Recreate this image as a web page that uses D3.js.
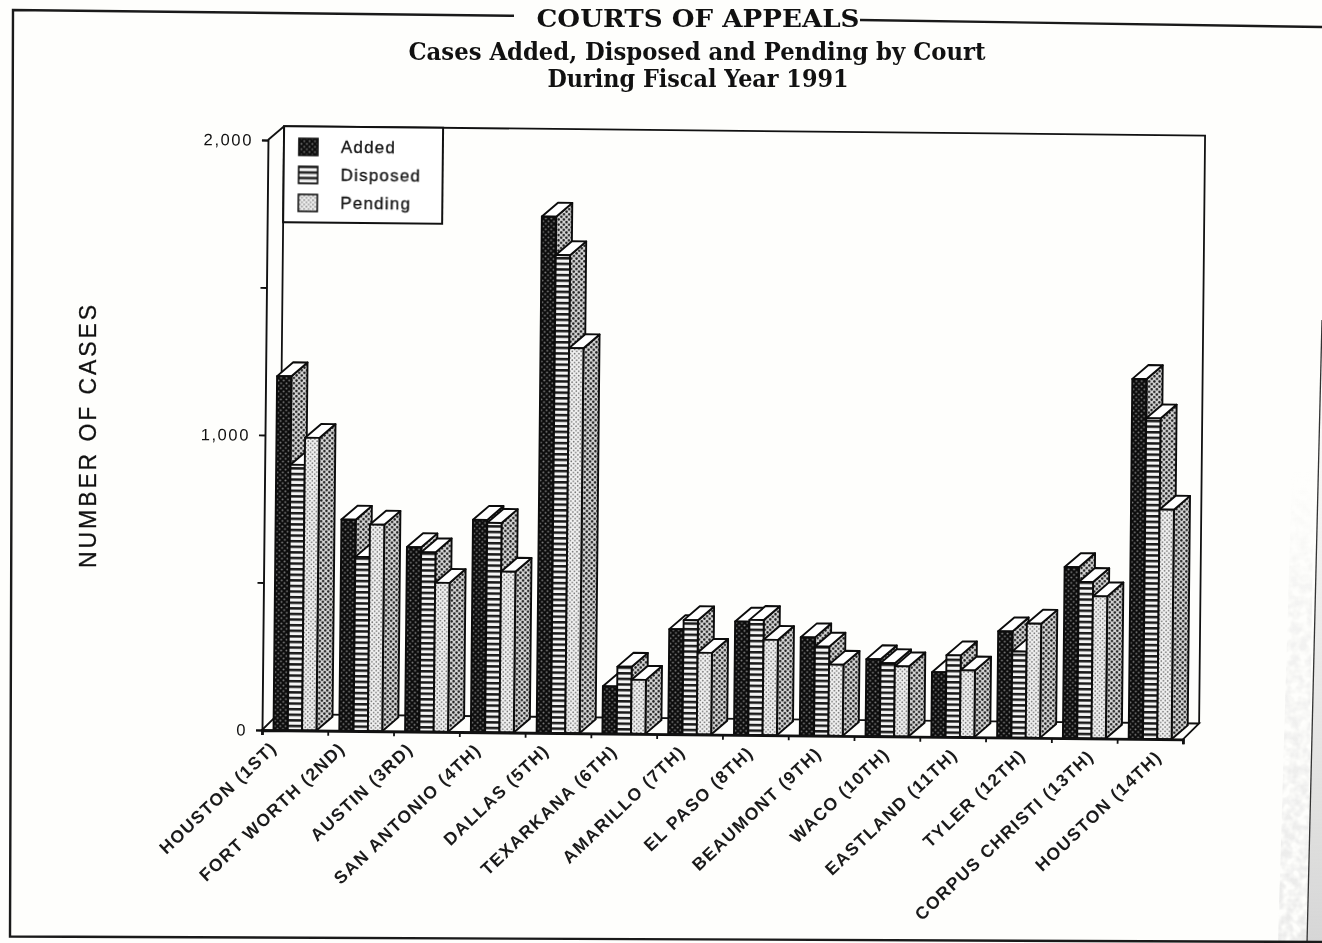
<!DOCTYPE html>
<html>
<head>
<meta charset="utf-8">
<title>Courts of Appeals</title>
<script src="https://cdn.jsdelivr.net/npm/d3@7/dist/d3.min.js"></script>
<style>
  html, body { margin: 0; padding: 0; background: #fefefc; }
  svg { display: block; filter: blur(0.5px); }
  .sans { font-family: "Liberation Sans", Arial, sans-serif; fill: #111; stroke: #111; stroke-width: 0.3px; }
  .serif { font-family: "DejaVu Serif", serif; font-weight: bold; fill: #111; text-anchor: middle; }
</style>
</head>
<body>
<svg id="chart" width="1322" height="943"></svg>
<script>
const courts = ['HOUSTON (1ST)', 'FORT WORTH (2ND)', 'AUSTIN (3RD)', 'SAN ANTONIO (4TH)', 'DALLAS (5TH)', 'TEXARKANA (6TH)', 'AMARILLO (7TH)', 'EL PASO (8TH)', 'BEAUMONT (9TH)', 'WACO (10TH)', 'EASTLAND (11TH)', 'TYLER (12TH)', 'CORPUS CHRISTI (13TH)', 'HOUSTON (14TH)'];
const added = [1200, 716, 625, 720, 1750, 160, 356, 384, 333, 261, 219, 360, 580, 1220];
const disposed = [900, 590, 608, 710, 1620, 227, 387, 390, 302, 248, 277, 292, 530, 1087];
const pending = [992, 700, 505, 545, 1305, 183, 277, 323, 241, 238, 226, 387, 482, 778];
const seriesNames = ['Added', 'Disposed', 'Pending'];
const yTicks = [0, 500, 1000, 1500, 2000];
const yTickLabels = { 0: '0', 1000: '1,000', 2000: '2,000' };

const svg = d3.select('#chart');
const defs = svg.append('defs');

// Halftone fills, as on the scanned page
function dots(id, bg, fg, r, size) {
  const p = defs.append('pattern').attr('id', id).attr('width', size).attr('height', size).attr('patternUnits', 'userSpaceOnUse');
  p.append('rect').attr('width', size).attr('height', size).attr('fill', bg);
  p.append('circle').attr('cx', size / 4).attr('cy', size / 4).attr('r', r).attr('fill', fg);
  p.append('circle').attr('cx', size * 0.75).attr('cy', size * 0.75).attr('r', r).attr('fill', fg);
}
dots('fill-added', '#0c0c0c', '#808080', 0.95, 5.4);
dots('fill-side', '#d2d2d2', '#1c1c1c', 1.2, 5.2);
dots('fill-pending', '#f2f2f2', '#707070', 0.85, 4.4);
const stripes = defs.append('pattern').attr('id', 'fill-disposed').attr('width', 6).attr('height', 5.6).attr('patternUnits', 'userSpaceOnUse');
stripes.append('rect').attr('width', 6).attr('height', 5.6).attr('fill', '#f4f4f4');
stripes.append('rect').attr('width', 6).attr('height', 2.5).attr('fill', '#1a1a1a');
const fills = ['url(#fill-added)', 'url(#fill-disposed)', 'url(#fill-pending)'];

const bleed = defs.append('linearGradient').attr('id', 'bleed').attr('x1', 0).attr('y1', 0).attr('x2', 0).attr('y2', 1);
bleed.append('stop').attr('offset', 0).attr('stop-color', '#e0e0e0').attr('stop-opacity', 0);
bleed.append('stop').attr('offset', 0.3).attr('stop-color', '#e0e0e0').attr('stop-opacity', 0.35);
bleed.append('stop').attr('offset', 1).attr('stop-color', '#dcdcdc').attr('stop-opacity', 0.6);
const strip = defs.append('linearGradient').attr('id', 'strip').attr('x1', 0).attr('y1', 0).attr('x2', 0).attr('y2', 1);
strip.append('stop').attr('offset', 0).attr('stop-color', '#d8d8d8').attr('stop-opacity', 0);
strip.append('stop').attr('offset', 1).attr('stop-color', '#cfcfcf').attr('stop-opacity', 0.85);
const grain = defs.append('filter').attr('id', 'grain');
grain.append('feTurbulence').attr('type', 'fractalNoise').attr('baseFrequency', 0.12).attr('numOctaves', 2).attr('seed', 4).attr('result', 'n');
grain.append('feColorMatrix').attr('in', 'n').attr('type', 'matrix').attr('values', '0 0 0 0 0 0 0 0 0 0 0 0 0 0 0 0 0 0 2.4 -0.7').attr('result', 'a');
grain.append('feComposite').attr('in', 'SourceGraphic').attr('in2', 'a').attr('operator', 'in');

// page gutter at the right of the scan
svg.append('path').attr('d', 'M1314,470L1307,943L1278,943L1292,470Z').attr('fill', 'url(#bleed)').attr('filter', 'url(#grain)');
svg.append('path').attr('d', 'M1322,320L1322,943L1307,943Z').attr('fill', 'url(#strip)');
svg.append('path').attr('d', 'M1322,320L1307,943').attr('stroke', '#333').attr('stroke-width', 1.3).attr('fill', 'none');

// outer frame, broken by the heading
const frame = svg.append('g').attr('fill', 'none').attr('stroke', '#1a1a1a').attr('stroke-width', 2.4);
frame.append('path').attr('d', 'M514,15.8L13,10L10,936.5L1322,942');
frame.append('path').attr('d', 'M860,20L1322,27');

function heading(text, cx, base, len, size) {
  svg.append('text').attr('class', 'serif').attr('x', cx).attr('y', base).attr('font-size', size)
    .attr('textLength', len).attr('lengthAdjust', 'spacingAndGlyphs').text(text);
}
heading('COURTS OF APPEALS', 698, 27, 323, 25);
heading('Cases Added, Disposed and Pending by Court', 697, 60, 577, 24);
heading('During Fiscal Year 1991', 698, 87, 301, 24);

svg.append('text').attr('class', 'sans').attr('transform', 'translate(96,435) rotate(-90)').attr('text-anchor', 'middle')
  .attr('font-size', 23).attr('letter-spacing', 2.9).text('NUMBER OF CASES');

const plotWidth = 921;
const plotHeight = 590;
const depthX = 16;
const depthY = -16;
const barW = 14.3;
const barInset = 11.5;
const barDx = 16;
const barDy = -14;

const plot = svg.append('g').attr('transform', 'translate(262,730) rotate(0.58)');

const x = d3.scaleBand().domain(courts).range([0, plotWidth]);
const y = d3.scaleLinear().domain([0, 2000]).range([0, -plotHeight]);
const labelX = d3.scalePoint().domain(courts).range([7, 892]);

// back wall, left wall and floor
const wallTop = y(2000) - 14;
const box = plot.append('g').attr('fill', 'none').attr('stroke', '#111').attr('stroke-width', 1.8);
box.append('path').attr('d', `M${depthX},${depthY}V${wallTop}H${plotWidth + depthX}V${depthY}`);
box.append('path').attr('d', `M0,${y(2000)}L${depthX},${wallTop}`);
box.append('path').attr('d', `M0,0L${depthX},${depthY}H${plotWidth + depthX}L${plotWidth},0`);

const seriesValues = [added, disposed, pending];
const groups = plot.selectAll('g.court').data(courts).join('g').attr('class', 'court')
  .attr('transform', (d) => `translate(${x(d) + barInset},0)`);

groups.each(function (court, i) {
  const g = d3.select(this);
  seriesValues.forEach((values, s) => {
    const x0 = s * barW;
    const top = y(values[i]);
    const bar = g.append('g').attr('stroke', '#0c0c0c').attr('stroke-width', 1.9).attr('stroke-linejoin', 'round');
    bar.append('path').attr('fill', 'url(#fill-side)')
      .attr('d', `M${x0 + barW},0L${x0 + barW + barDx},${barDy}V${top + barDy}L${x0 + barW},${top}Z`);
    bar.append('path').attr('fill', '#fff')
      .attr('d', `M${x0},${top}L${x0 + barDx},${top + barDy}H${x0 + barW + barDx}L${x0 + barW},${top}Z`);
    bar.append('rect').attr('x', x0).attr('y', top).attr('width', barW).attr('height', -top).attr('fill', fills[s]);
  });
});

// axes
const yAxis = plot.append('g')
  .call(d3.axisLeft(y).tickValues(yTicks).tickSize(6).tickPadding(9).tickFormat((d) => yTickLabels[d] || ''));
yAxis.select('.domain').attr('stroke', '#111').attr('stroke-width', 1.9);
yAxis.selectAll('.tick line').attr('stroke', '#111').attr('stroke-width', 1.8);
yAxis.selectAll('.tick text').attr('font-family', '"Liberation Sans", Arial, sans-serif').attr('font-size', 16.5).attr('letter-spacing', 1.6).attr('fill', '#111');

const xAxis = plot.append('g')
  .call(d3.axisBottom(d3.scaleLinear().domain([0, courts.length]).range([0, plotWidth])).ticks(courts.length).tickSize(5).tickFormat(''));
xAxis.select('.domain').attr('stroke', '#111').attr('stroke-width', 2.8);
xAxis.selectAll('.tick line').attr('stroke', '#111').attr('stroke-width', 1.8);

const labelAxis = plot.append('g').attr('transform', 'translate(0,10)')
  .call(d3.axisBottom(labelX).tickSize(0).tickPadding(0));
labelAxis.select('.domain').remove();
labelAxis.selectAll('text')
  .attr('transform', 'rotate(-44)')
  .attr('text-anchor', 'end')
  .attr('dy', '0.72em')
  .attr('font-family', '"Liberation Sans", Arial, sans-serif')
  .attr('font-weight', 'bold')
  .attr('font-size', 17.5)
  .attr('letter-spacing', 1.4)
  .attr('fill', '#1a1a1a');

// legend sits in the top left corner of the back wall
const legend = plot.append('g').attr('transform', `translate(${depthX},${wallTop})`);
legend.append('rect').attr('width', 159).attr('height', 96).attr('fill', '#fff').attr('stroke', '#111').attr('stroke-width', 2);
const legendRow = d3.scalePoint().domain(seriesNames).range([20, 76]);
seriesNames.forEach((name, s) => {
  legend.append('rect').attr('x', 15).attr('y', legendRow(name) - 8).attr('width', 19).attr('height', 17)
    .attr('fill', fills[s]).attr('stroke', '#111').attr('stroke-width', 1.6);
  legend.append('text').attr('class', 'sans').attr('x', 57).attr('y', legendRow(name) + 6)
    .attr('font-size', 17).attr('letter-spacing', 1.2).text(name);
});
</script>
</body>
</html>
